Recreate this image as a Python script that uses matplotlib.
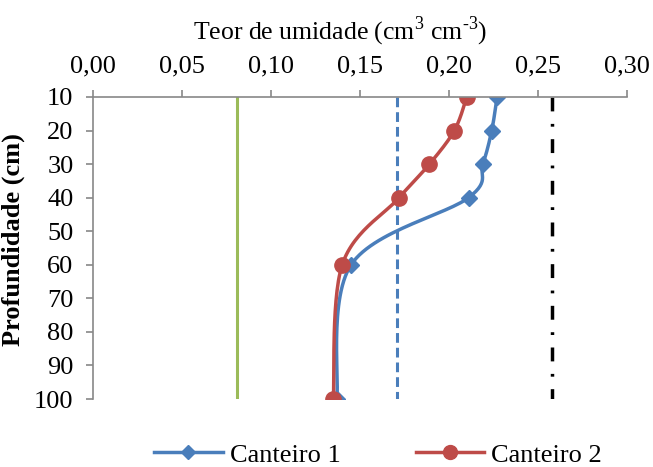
import matplotlib
matplotlib.use("Agg")
import matplotlib.pyplot as plt
import numpy as np

plt.rcParams['font.family'] = ['Liberation Serif', 'DejaVu Serif']
plt.rcParams['mathtext.fontset'] = 'custom'
plt.rcParams['mathtext.rm'] = 'Liberation Serif'
plt.rcParams['lines.scale_dashes'] = False

# dados
profundidade = [10, 20, 30, 40, 60, 100]
canteiro1 = [0.227, 0.224, 0.219, 0.211, 0.145, 0.137]
canteiro2 = [0.210, 0.203, 0.189, 0.172, 0.140, 0.135]
ref_prof = [10, 100]
ref_verde = 0.081
ref_azul = 0.171
ref_preto = 0.258
xticks = [0.00, 0.05, 0.10, 0.15, 0.20, 0.25, 0.30]
yticks = [10, 20, 30, 40, 50, 60, 70, 80, 90, 100]


def suave(x, y, sx, sy, n=30):
    # curva suavizada estilo Excel (Catmull-Rom), calculada em escala de tela
    px = np.array(x) * sx
    py = np.array(y) * sy
    P = np.column_stack([px, py])
    P = np.vstack([P[0], P, P[-1]])
    out = []
    for i in range(1, len(P) - 2):
        p0, p1, p2, p3 = P[i - 1], P[i], P[i + 1], P[i + 2]
        c1 = p1 + (p2 - p0) / 6
        c2 = p2 - (p3 - p1) / 6
        t = np.linspace(0, 1, n)[:, None]
        b = (1 - t) ** 3 * p1 + 3 * (1 - t) ** 2 * t * c1 + 3 * (1 - t) * t ** 2 * c2 + t ** 3 * p2
        out.append(b)
    out = np.vstack(out)
    return out[:, 0] / sx, out[:, 1] / sy


fig = plt.figure(figsize=(6.53, 4.67), dpi=100)
ax = fig.add_axes([0.1424, 0.1456, 0.8178, 0.6467])

sx = 534 / 0.30
sy = 302 / 90.0

azul = '#4A7EBB'
verm = '#BE4B48'
cinza = '#888888'

ax.plot([ref_verde] * 2, ref_prof, color='#9BBB59', lw=2.2)
ax.plot([ref_azul] * 2, ref_prof, color=azul, lw=2.2, dashes=(7, 3.6))
ax.plot([ref_preto] * 2, ref_prof, color='black', lw=2.5, dashes=(10, 9, 2, 9))

x1, y1 = suave(canteiro1, profundidade, sx, sy)
ax.plot(x1, y1, color=azul, lw=2.5)
ax.plot(canteiro1, profundidade, ls='none', marker='D', color=azul, ms=8)
x2, y2 = suave(canteiro2, profundidade, sx, sy)
ax.plot(x2, y2, color=verm, lw=2.5)
ax.plot(canteiro2, profundidade, ls='none', marker='o', color=verm, ms=11)

# legenda
h1, = ax.plot([], [], color=azul, lw=2.5, marker='D', ms=7)
h2, = ax.plot([], [], color=verm, lw=2.5, marker='o', ms=10)
fig.legend([h1, h2], ['Canteiro 1', 'Canteiro 2'], loc='center',
           bbox_to_anchor=(0.579, 0.026), ncol=2, frameon=False, fontsize=19,
           handlelength=2.6, handletextpad=0.27, columnspacing=2.85,
           borderpad=0, borderaxespad=0)

ax.set_xlim(0, 0.30)
ax.set_ylim(100, 10)
ax.xaxis.tick_top()
ax.xaxis.set_label_position('top')
ax.set_xticks(xticks)
ax.set_xticklabels([('%.2f' % v).replace('.', ',') for v in xticks], fontsize=19)
ax.set_yticks(yticks)
ax.set_yticklabels([str(v) for v in yticks], fontsize=19)
ax.tick_params(axis='x', direction='out', length=5, width=1.2, color=cinza, pad=9)
ax.tick_params(axis='y', direction='out', length=5, width=1.2, color=cinza, pad=9)
for s in ['right', 'bottom']:
    ax.spines[s].set_visible(False)
for s in ['top', 'left']:
    ax.spines[s].set_color(cinza)
    ax.spines[s].set_linewidth(1.2)

ax.set_xlabel(r'Teor de umidade (cm$^{3}$ cm$^{\text{-3}}$)', fontsize=18.5)
ax.xaxis.set_label_coords((340 - 93) / 534, 1 + (97 - 39) / 302)
ax.set_ylabel('Profundidade (cm)', fontsize=19, fontweight='bold')
ax.yaxis.set_label_coords((25 - 93) / 534, (399 - 240) / 302)

fig.savefig('out.png', dpi=100)
